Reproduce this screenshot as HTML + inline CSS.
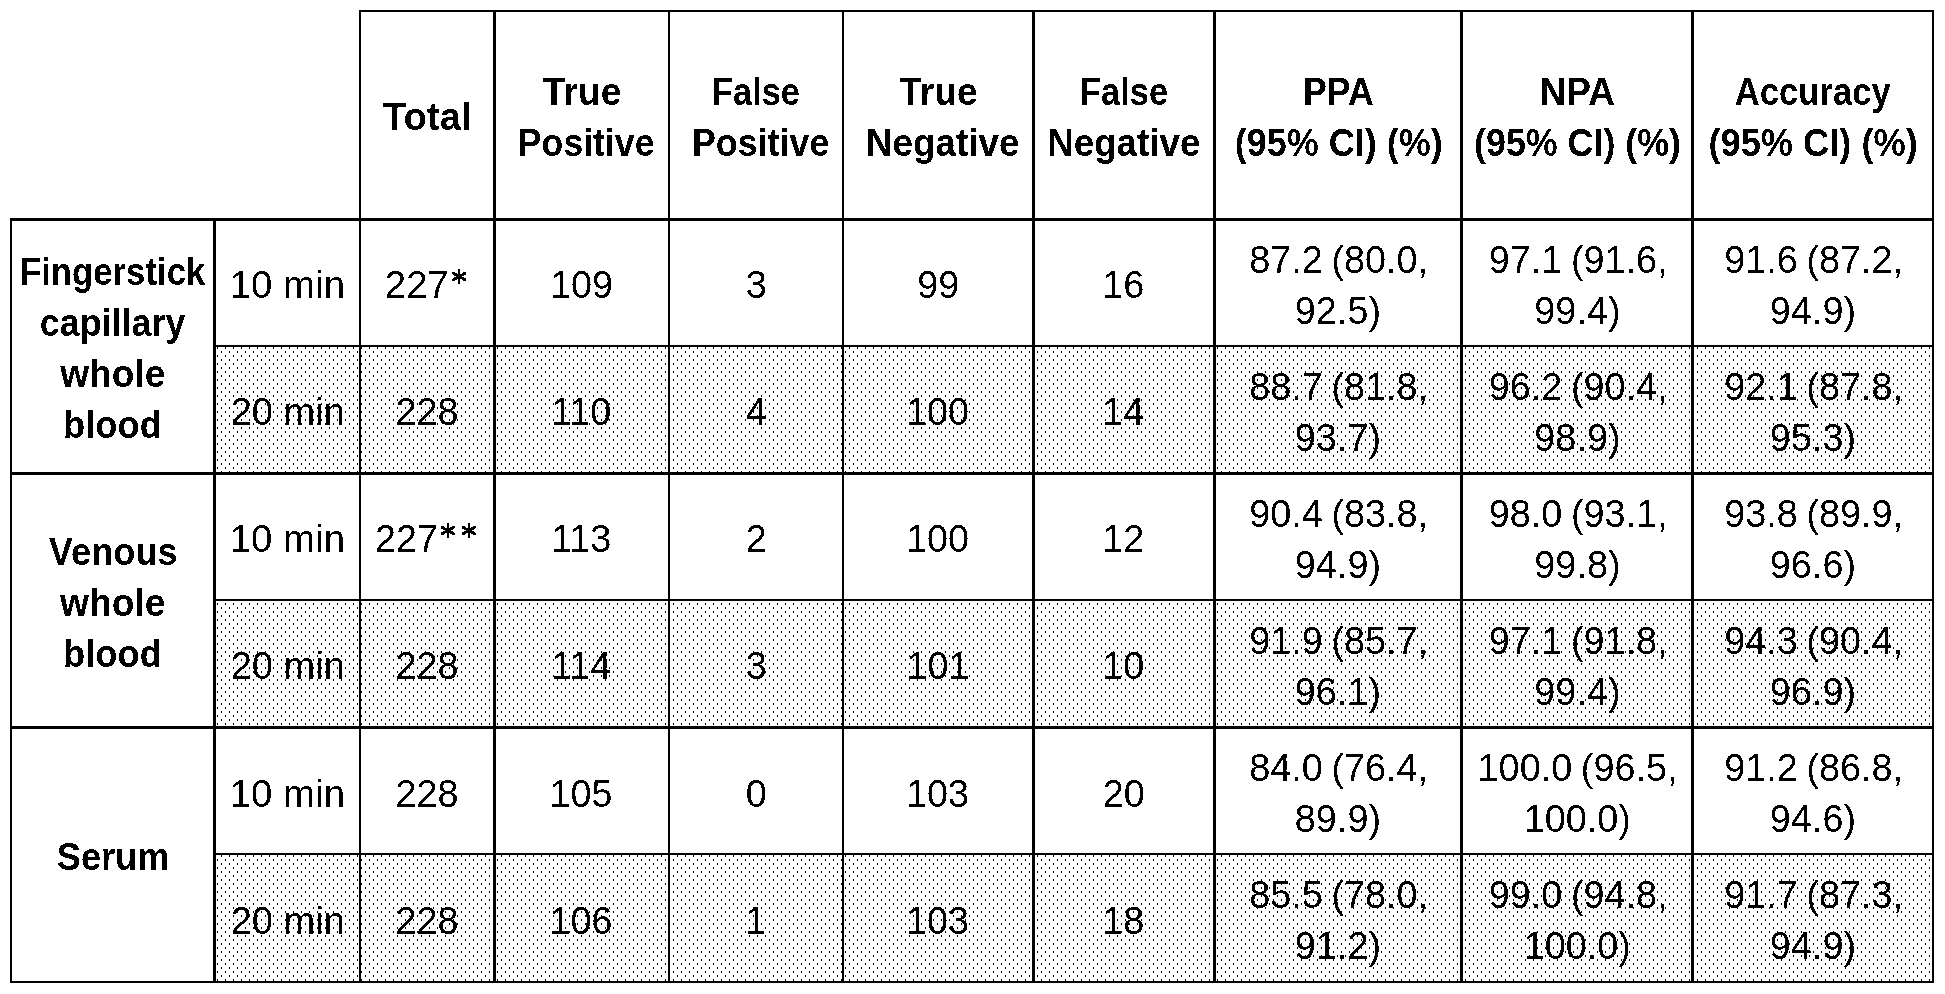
<!DOCTYPE html>
<html><head><meta charset="utf-8"><style>
html,body{margin:0;padding:0;background:#fff;width:1945px;height:994px;overflow:hidden}
svg{display:block;filter:grayscale(1)}
text{font-family:"Liberation Sans",sans-serif}
</style></head><body>
<svg width="1945" height="994" viewBox="0 0 1945 994" font-size="39.0" fill="#000">
<defs><pattern id="dots" x="0" y="0" width="8" height="8" patternUnits="userSpaceOnUse">
<rect x="1" y="3" width="1" height="2" fill="#000"/><rect x="5" y="7" width="1" height="1" fill="#000"/><rect x="5" y="0" width="1" height="1" fill="#000"/>
</pattern>
<filter id="th" x="0" y="0" width="1945" height="994" filterUnits="userSpaceOnUse"><feComponentTransfer><feFuncA type="discrete" tableValues="0 1"/></feComponentTransfer></filter></defs>
<rect x="0" y="0" width="1945" height="994" fill="#fff"/>
<rect x="213" y="345" width="1721" height="127" fill="url(#dots)"/><rect x="213" y="599" width="1721" height="127" fill="url(#dots)"/><rect x="213" y="853" width="1721" height="128" fill="url(#dots)"/>
<g shape-rendering="crispEdges">
<rect x="359" y="10" width="1575" height="2"/><rect x="10" y="218" width="1924" height="3"/><rect x="213" y="345" width="1721" height="2"/><rect x="10" y="472" width="1924" height="3"/><rect x="213" y="599" width="1721" height="2"/><rect x="10" y="726" width="1924" height="3"/><rect x="213" y="853" width="1721" height="2"/><rect x="10" y="981" width="1924" height="2"/><rect x="10" y="218" width="2" height="765"/><rect x="213" y="218" width="3" height="765"/><rect x="359" y="10" width="2" height="973"/><rect x="493" y="10" width="3" height="973"/><rect x="668" y="10" width="2" height="973"/><rect x="842" y="10" width="2" height="973"/><rect x="1032" y="10" width="3" height="973"/><rect x="1213" y="10" width="3" height="973"/><rect x="1460" y="10" width="3" height="973"/><rect x="1691" y="10" width="3" height="973"/><rect x="1932" y="10" width="2" height="973"/>
</g>
<g filter="url(#th)">
<text transform="matrix(0.9818 0 0 1.0000 383.00 130.00)" font-weight="bold">Total</text>
<text transform="matrix(0.9556 0 0 1.0000 542.80 105.00)" font-weight="bold">True</text>
<text transform="matrix(0.9138 0 0 1.0000 517.86 156.00)" font-weight="bold">Positive</text>
<text transform="matrix(0.8811 0 0 1.0000 712.06 105.00)" font-weight="bold">False</text>
<text transform="matrix(0.9186 0 0 1.0000 691.94 156.00)" font-weight="bold">Positive</text>
<text transform="matrix(0.9519 0 0 1.0000 899.20 105.00)" font-weight="bold">True</text>
<text transform="matrix(0.9449 0 0 1.0000 865.97 156.00)" font-weight="bold">Negative</text>
<text transform="matrix(0.8853 0 0 1.0000 1079.84 105.00)" font-weight="bold">False</text>
<text transform="matrix(0.9430 0 0 1.0000 1047.17 156.00)" font-weight="bold">Negative</text>
<text transform="matrix(0.9151 0 0 1.0000 1303.05 105.00)" font-weight="bold">PPA</text>
<text transform="matrix(0.9235 0 0 1.0000 1234.75 156.00)" font-weight="bold">(95% CI) (%)</text>
<text transform="matrix(0.9507 0 0 1.0000 1539.45 105.00)" font-weight="bold">NPA</text>
<text transform="matrix(0.9186 0 0 1.0000 1474.06 156.00)" font-weight="bold">(95% CI) (%)</text>
<text transform="matrix(0.8885 0 0 1.0000 1734.81 105.00)" font-weight="bold">Accuracy</text>
<text transform="matrix(0.9294 0 0 1.0000 1708.44 156.00)" font-weight="bold">(95% CI) (%)</text>
<text transform="matrix(0.8912 0 0 1.0000 19.93 285.00)" font-weight="bold">Fingerstick</text>
<text transform="matrix(0.9212 0 0 1.0000 39.76 336.00)" font-weight="bold">capillary</text>
<text transform="matrix(0.9532 0 0 1.0000 60.20 387.00)" font-weight="bold">whole</text>
<text transform="matrix(0.9307 0 0 1.0000 63.11 438.00)" font-weight="bold">blood</text>
<text transform="matrix(0.9299 0 0 1.0000 48.80 565.00)" font-weight="bold">Venous</text>
<text transform="matrix(0.9569 0 0 1.0000 59.90 616.00)" font-weight="bold">whole</text>
<text transform="matrix(0.9307 0 0 1.0000 63.11 667.00)" font-weight="bold">blood</text>
<text transform="matrix(0.9280 0 0 1.0000 56.77 870.00)" font-weight="bold">Serum</text>
<text transform="matrix(0.9856 0 0 1.0000 229.64 298.00)">10 min</text>
<text transform="matrix(0.9700 0 0 1.0000 549.99 298.00)" word-spacing="-2.0">109</text>
<text transform="matrix(0.9700 0 0 1.0000 745.83 298.00)" word-spacing="-2.0">3</text>
<text transform="matrix(0.9700 0 0 1.0000 917.16 298.00)" word-spacing="-2.0">99</text>
<text transform="matrix(0.9700 0 0 1.0000 1102.17 298.00)" word-spacing="-2.0">16</text>
<text transform="matrix(0.9700 0 0 1.0000 1249.24 273.00)" word-spacing="-2.0">87.2 (80.0,</text>
<text transform="matrix(0.9700 0 0 1.0000 1294.84 324.00)" word-spacing="-2.0">92.5)</text>
<text transform="matrix(0.9700 0 0 1.0000 1488.74 273.00)" word-spacing="-2.0">97.1 (91.6,</text>
<text transform="matrix(0.9700 0 0 1.0000 1534.34 324.00)" word-spacing="-2.0">99.4)</text>
<text transform="matrix(0.9700 0 0 1.0000 1724.24 273.00)" word-spacing="-2.0">91.6 (87.2,</text>
<text transform="matrix(0.9700 0 0 1.0000 1769.84 324.00)" word-spacing="-2.0">94.9)</text>
<text transform="matrix(0.9768 0 0 1.0000 230.65 425.00)">20 min</text>
<text transform="matrix(0.9700 0 0 1.0000 395.49 425.00)" word-spacing="-2.0">228</text>
<text transform="matrix(0.9700 0 0 1.0000 550.96 425.00)" word-spacing="-2.0">110</text>
<text transform="matrix(0.9700 0 0 1.0000 745.83 425.00)" word-spacing="-2.0">4</text>
<text transform="matrix(0.9700 0 0 1.0000 906.00 425.00)" word-spacing="-2.0">100</text>
<text transform="matrix(0.9700 0 0 1.0000 1102.17 425.00)" word-spacing="-2.0">14</text>
<text transform="matrix(0.9700 0 0 1.0000 1249.24 400.00)" word-spacing="-2.0">88.7 (81.8,</text>
<text transform="matrix(0.9700 0 0 1.0000 1294.84 451.00)" word-spacing="-2.0">93.7)</text>
<text transform="matrix(0.9700 0 0 1.0000 1488.74 400.00)" word-spacing="-2.0">96.2 (90.4,</text>
<text transform="matrix(0.9700 0 0 1.0000 1534.34 451.00)" word-spacing="-2.0">98.9)</text>
<text transform="matrix(0.9700 0 0 1.0000 1724.24 400.00)" word-spacing="-2.0">92.1 (87.8,</text>
<text transform="matrix(0.9700 0 0 1.0000 1769.84 451.00)" word-spacing="-2.0">95.3)</text>
<text transform="matrix(0.9856 0 0 1.0000 229.64 552.00)">10 min</text>
<text transform="matrix(0.9700 0 0 1.0000 550.96 552.00)" word-spacing="-2.0">113</text>
<text transform="matrix(0.9700 0 0 1.0000 745.83 552.00)" word-spacing="-2.0">2</text>
<text transform="matrix(0.9700 0 0 1.0000 906.00 552.00)" word-spacing="-2.0">100</text>
<text transform="matrix(0.9700 0 0 1.0000 1102.17 552.00)" word-spacing="-2.0">12</text>
<text transform="matrix(0.9700 0 0 1.0000 1249.24 527.00)" word-spacing="-2.0">90.4 (83.8,</text>
<text transform="matrix(0.9700 0 0 1.0000 1294.84 578.00)" word-spacing="-2.0">94.9)</text>
<text transform="matrix(0.9700 0 0 1.0000 1488.74 527.00)" word-spacing="-2.0">98.0 (93.1,</text>
<text transform="matrix(0.9700 0 0 1.0000 1534.34 578.00)" word-spacing="-2.0">99.8)</text>
<text transform="matrix(0.9700 0 0 1.0000 1724.24 527.00)" word-spacing="-2.0">93.8 (89.9,</text>
<text transform="matrix(0.9700 0 0 1.0000 1769.84 578.00)" word-spacing="-2.0">96.6)</text>
<text transform="matrix(0.9768 0 0 1.0000 230.65 679.00)">20 min</text>
<text transform="matrix(0.9700 0 0 1.0000 395.49 679.00)" word-spacing="-2.0">228</text>
<text transform="matrix(0.9700 0 0 1.0000 550.96 679.00)" word-spacing="-2.0">114</text>
<text transform="matrix(0.9700 0 0 1.0000 745.83 679.00)" word-spacing="-2.0">3</text>
<text transform="matrix(0.9700 0 0 1.0000 906.49 679.00)" word-spacing="-2.0">101</text>
<text transform="matrix(0.9700 0 0 1.0000 1102.17 679.00)" word-spacing="-2.0">10</text>
<text transform="matrix(0.9700 0 0 1.0000 1249.24 654.00)" word-spacing="-2.0">91.9 (85.7,</text>
<text transform="matrix(0.9700 0 0 1.0000 1294.84 705.00)" word-spacing="-2.0">96.1)</text>
<text transform="matrix(0.9700 0 0 1.0000 1488.74 654.00)" word-spacing="-2.0">97.1 (91.8,</text>
<text transform="matrix(0.9700 0 0 1.0000 1534.34 705.00)" word-spacing="-2.0">99.4)</text>
<text transform="matrix(0.9700 0 0 1.0000 1724.24 654.00)" word-spacing="-2.0">94.3 (90.4,</text>
<text transform="matrix(0.9700 0 0 1.0000 1769.84 705.00)" word-spacing="-2.0">96.9)</text>
<text transform="matrix(0.9856 0 0 1.0000 229.64 807.00)">10 min</text>
<text transform="matrix(0.9700 0 0 1.0000 395.49 807.00)" word-spacing="-2.0">228</text>
<text transform="matrix(0.9700 0 0 1.0000 549.50 807.00)" word-spacing="-2.0">105</text>
<text transform="matrix(0.9700 0 0 1.0000 745.83 807.00)" word-spacing="-2.0">0</text>
<text transform="matrix(0.9700 0 0 1.0000 906.00 807.00)" word-spacing="-2.0">103</text>
<text transform="matrix(0.9700 0 0 1.0000 1102.66 807.00)" word-spacing="-2.0">20</text>
<text transform="matrix(0.9700 0 0 1.0000 1249.24 781.00)" word-spacing="-2.0">84.0 (76.4,</text>
<text transform="matrix(0.9700 0 0 1.0000 1294.84 832.00)" word-spacing="-2.0">89.9)</text>
<text transform="matrix(0.9700 0 0 1.0000 1477.59 781.00)" word-spacing="-2.0">100.0 (96.5,</text>
<text transform="matrix(0.9700 0 0 1.0000 1523.66 832.00)" word-spacing="-2.0">100.0)</text>
<text transform="matrix(0.9700 0 0 1.0000 1724.24 781.00)" word-spacing="-2.0">91.2 (86.8,</text>
<text transform="matrix(0.9700 0 0 1.0000 1769.84 832.00)" word-spacing="-2.0">94.6)</text>
<text transform="matrix(0.9768 0 0 1.0000 230.65 934.00)">20 min</text>
<text transform="matrix(0.9700 0 0 1.0000 395.49 934.00)" word-spacing="-2.0">228</text>
<text transform="matrix(0.9700 0 0 1.0000 549.50 934.00)" word-spacing="-2.0">106</text>
<text transform="matrix(0.9700 0 0 1.0000 745.35 934.00)" word-spacing="-2.0">1</text>
<text transform="matrix(0.9700 0 0 1.0000 906.00 934.00)" word-spacing="-2.0">103</text>
<text transform="matrix(0.9700 0 0 1.0000 1102.17 934.00)" word-spacing="-2.0">18</text>
<text transform="matrix(0.9700 0 0 1.0000 1249.24 908.00)" word-spacing="-2.0">85.5 (78.0,</text>
<text transform="matrix(0.9700 0 0 1.0000 1294.84 959.00)" word-spacing="-2.0">91.2)</text>
<text transform="matrix(0.9700 0 0 1.0000 1488.74 908.00)" word-spacing="-2.0">99.0 (94.8,</text>
<text transform="matrix(0.9700 0 0 1.0000 1523.66 959.00)" word-spacing="-2.0">100.0)</text>
<text transform="matrix(0.9700 0 0 1.0000 1724.24 908.00)" word-spacing="-2.0">91.7 (87.3,</text>
<text transform="matrix(0.9700 0 0 1.0000 1769.84 959.00)" word-spacing="-2.0">94.9)</text>
<text transform="matrix(0.9852 0 0 1.0000 384.83 298.00)">227</text>
<text transform="matrix(0.9672 0 0 1.0000 375.07 552.00)">227</text>
<path d="M459.10 269.00V284.00M452.30 272.70L465.90 280.30M452.30 280.30L465.90 272.70" stroke="#000" stroke-width="2.7" fill="none"/>
<path d="M447.90 523.00V538.00M441.10 526.70L454.70 534.30M441.10 534.30L454.70 526.70" stroke="#000" stroke-width="2.7" fill="none"/>
<path d="M468.95 523.00V538.00M462.15 526.70L475.75 534.30M462.15 534.30L475.75 526.70" stroke="#000" stroke-width="2.7" fill="none"/>
</g>
</svg>
</body></html>
